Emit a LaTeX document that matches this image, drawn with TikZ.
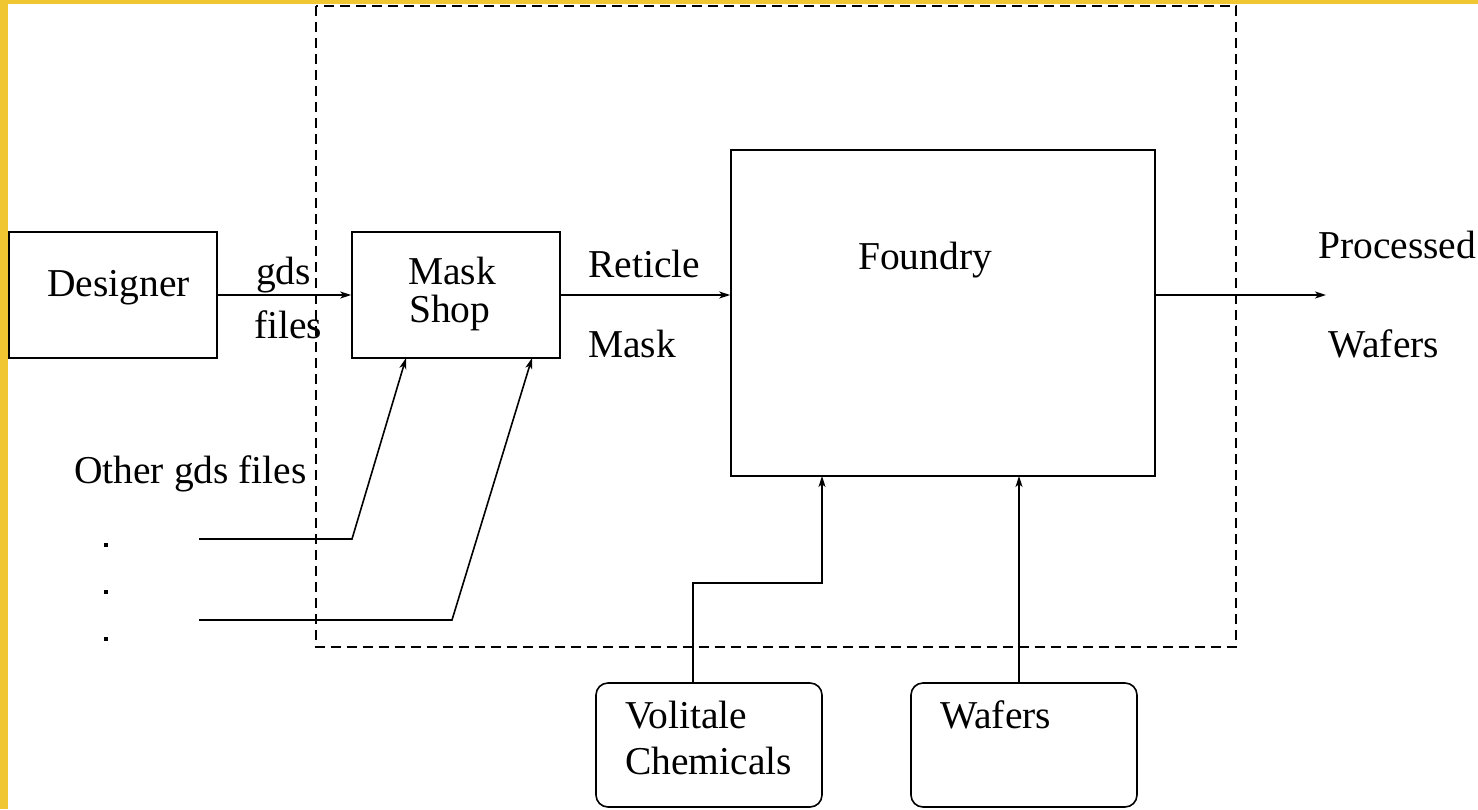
\documentclass[tikz,border=0pt]{standalone}
\usepackage{fontspec}
\setmainfont{Liberation Serif}
\usetikzlibrary{arrows.meta,calc}
\definecolor{frameyellow}{RGB}{240,198,50}
\begin{document}
\begin{tikzpicture}[x=1pt,y=-1pt,
  box/.style={draw,line width=1.6pt,inner sep=0pt},
  rbox/.style={box,rounded corners=12pt},
  lbl/.style={anchor=base west,inner sep=0pt,font=\fontsize{39.5}{46}\selectfont},
  conn/.style={line width=1.6pt},
  arr/.style={conn,-{Stealth[length=11pt,width=7pt,inset=3pt]}},
  region/.style={line width=1.6pt,dash pattern=on 10pt off 6pt}]
\useasboundingbox (0,0) rectangle (1478,809);
\fill[white] (0,0) rectangle (1478,809);
\fill[frameyellow] (0,0) rectangle (8,809);
\fill[frameyellow] (0,0) rectangle (1478,3.5);
% dashed region
\draw[region] (316,6) rectangle (1236,647);
% boxes
\node[box,minimum width=208pt,minimum height=126pt] (designer) at (113,295) {};
\node[box,minimum width=208pt,minimum height=126pt] (mask) at (456,295) {};
\node[box,minimum width=424pt,minimum height=326pt] (foundry) at (943,313) {};
\node[rbox,minimum width=226pt,minimum height=124pt] (chem) at (709,745) {};
\node[rbox,minimum width=226pt,minimum height=124pt] (wafbox) at (1024,745) {};
% texts
\node[lbl] (tdesigner) at (47,296) {Designer};
\node[lbl] (tmask) at (408,284) {Mask};
\node[lbl] (tshop) at (409,322) {Shop};
\node[lbl] (tgds) at (256,284) {gds};
\node[lbl] (tfiles) at (254,338) {files};
\node[lbl] (treticle) at (588,277) {Reticle};
\node[lbl] (tmask2) at (588,357) {Mask};
\node[lbl] (tfoundry) at (858,269) {Foundry};
\node[lbl] (tproc) at (1318,258) {Processed};
\node[lbl] (twaf) at (1328,357) {Wafers};
\node[lbl] (tother) at (74,483) {Other gds files};
\node[lbl] (tvol) at (625,728) {Volitale};
\node[lbl] (tchem) at (625,774) {Chemicals};
\node[lbl] (twafin) at (940,728) {Wafers};
% dots
\node[fill,inner sep=0pt,minimum size=4pt] (d1) at (106,545) {};
\node[fill,inner sep=0pt,minimum size=4pt] (d2) at (106,592) {};
\node[fill,inner sep=0pt,minimum size=4pt] (d3) at (106,639) {};
% coordinates
\coordinate (out) at (1326,295);
\coordinate (o1) at (199,539);
\coordinate (b1) at (352,539);
\coordinate (m1) at (406,358);
\coordinate (o2) at (199,620);
\coordinate (b2) at (452,620);
\coordinate (m2) at (532,358);
\coordinate (c1) at (693,683);
\coordinate (c2) at (693,583);
\coordinate (c3) at (822,583);
\coordinate (f1) at (822,476);
\coordinate (w1) at (1019,683);
\coordinate (f2) at (1019,476);
% connectors
\draw[arr] (designer.east) -- (mask.west);
\draw[arr] (mask.east) -- (mask.east -| foundry.west);
\draw[arr] (mask.east -| foundry.east) -- (out);
\draw[arr] (o1) -- (b1) -- (m1);
\draw[arr] (o2) -- (b2) -- (m2);
\draw[arr] (c1) -- (c2) -- (c3) -- (f1);
\draw[arr] (w1) -- (f2);
\end{tikzpicture}
\end{document}
